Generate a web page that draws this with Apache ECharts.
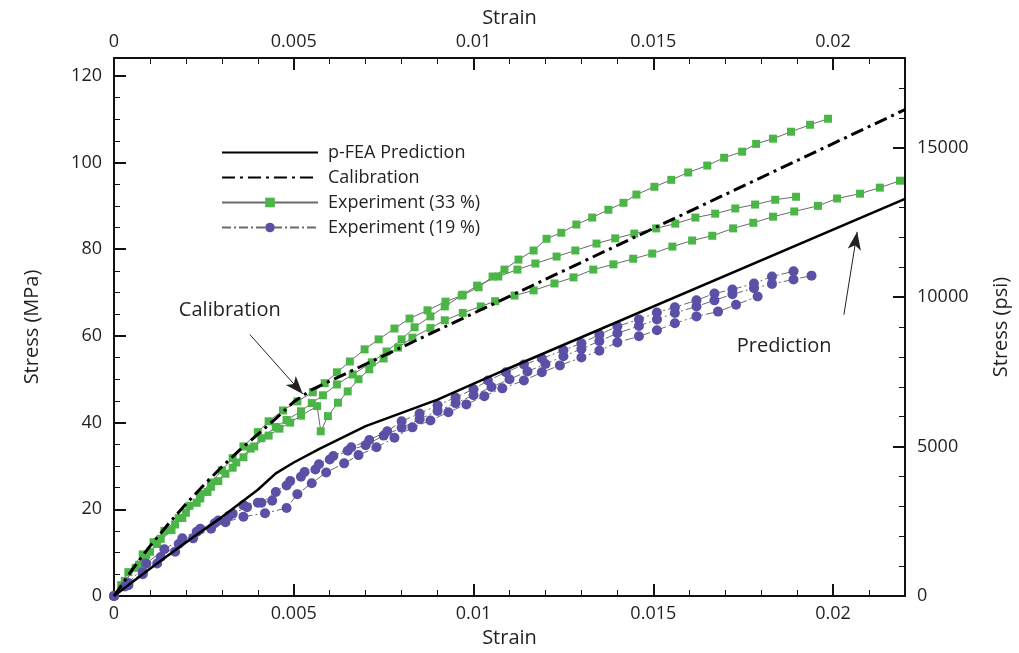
<!DOCTYPE html>
<html><head><meta charset="utf-8">
<script src="https://cdn.jsdelivr.net/npm/echarts@6/dist/echarts.min.js"></script>
<style>html,body{margin:0;padding:0;background:#fff}#c{width:1019px;height:653px}</style>
</head><body><div id="c"></div>
<script>
// ---------- axis ticks ----------
const STRAIN_MAJOR = 0.005, STRAIN_MINOR = 0.001;
const MPA_MAJOR = 20, MPA_MINOR = 5;
const PSI_MAJOR = 5000, PSI_MINOR = 1000;
const STRAIN_MAX = 0.022;
const PSI_MAX = 18000;
const MPA_PER_PSI = 0.00689476;
const MPA_MAX = PSI_MAX * MPA_PER_PSI;

// ---------- series data: [strain, stress MPa] ----------
const prediction = [[0,0],[0.001,6.3],[0.002,12.4],[0.003,18.2],[0.004,24.5],[0.0045,28.3],[0.005,30.8],[0.0057,33.9],[0.007,39.2],[0.009,45.3],[0.011,52.6],[0.022,91.6]];
const calibration = [[0,0],[0.0005,6],[0.001,11.5],[0.0015,16.5],[0.002,21.2],[0.0025,25.6],[0.003,29.8],[0.0035,33.7],[0.004,37.3],[0.0045,40.9],[0.005,44.8],[0.0055,47.6],[0.022,112.2]];

const exp33a = [[0,0],[0.0004,5.5],[0.0008,9.6],[0.0011,12.4],[0.0014,15.0],[0.0018,18.0],[0.0021,20.8],[0.0024,23.5],[0.0027,26.2],[0.0030,29.0],[0.0033,31.8],[0.0036,34.5],[0.0040,37.8],[0.0043,40.3],[0.0047,42.8],[0.0051,44.9],[0.00553,47.0],[0.00586,49.1],[0.0062,51.6],[0.00656,54.1],[0.00697,56.9],[0.00736,59.2],[0.0078,61.7],[0.00822,64.0],[0.00872,65.9],[0.00922,67.9],[0.00967,69.3],[0.01014,71.2],[0.01053,73.7],[0.01086,75.3],[0.01125,77.6],[0.01167,79.7],[0.01203,82.4],[0.01244,83.8],[0.01286,85.7],[0.0133,87.3],[0.01375,89.1],[0.01417,90.7],[0.01453,92.6],[0.01503,94.4],[0.0155,96.0],[0.01597,97.7],[0.0165,99.3],[0.01697,101.1],[0.01747,102.5],[0.01786,104.3],[0.01833,105.5],[0.01883,107.1],[0.01936,108.7],[0.01986,110.1]];
const exp33b = [[0,0],[0.0003,3.5],[0.0007,7.2],[0.0010,10.2],[0.0013,13.2],[0.0017,16.5],[0.0020,19.2],[0.0024,22.5],[0.0027,25.2],[0.0031,28.2],[0.0034,30.8],[0.0038,34.0],[0.0041,36.4],[0.0045,39.0],[0.0048,40.6],[0.0052,42.6],[0.0055,44.5],[0.00581,46.3],[0.0062,48.8],[0.00664,51.1],[0.00717,53.9],[0.00758,56.4],[0.0080,59.2],[0.00836,62.0],[0.0088,64.5],[0.0092,66.8],[0.0097,69.5],[0.0101,71.6],[0.01069,73.7],[0.01122,75.3],[0.01172,76.7],[0.01231,78.3],[0.01283,79.7],[0.01342,81.3],[0.01394,82.5],[0.01447,83.6],[0.01508,84.8],[0.01561,85.9],[0.01617,87.3],[0.01672,88.2],[0.01728,89.4],[0.01783,90.3],[0.01839,91.4],[0.01897,92.1]];
const exp33c = [[0,0],[0.0002,2.5],[0.0006,6.5],[0.0009,9.5],[0.0012,12.0],[0.0016,15.2],[0.0019,18.0],[0.0023,21.5],[0.0026,24.0],[0.0029,26.5],[0.0033,29.6],[0.0036,32.0],[0.0039,34.5],[0.0043,37.0],[0.0046,38.6],[0.0049,40.0],[0.0052,41.6],[0.00565,43.8],[0.00575,38.0],[0.00595,41.5],[0.00623,44.6],[0.0065,47.2],[0.0068,50.0],[0.0071,52.3],[0.0075,54.8],[0.0079,57.3],[0.0083,59.6],[0.0088,61.8],[0.0092,63.6],[0.0097,65.3],[0.0102,66.8],[0.0106,68.0],[0.01114,69.3],[0.01167,70.5],[0.01225,72.1],[0.01278,73.5],[0.01333,75.3],[0.01389,76.5],[0.01444,77.8],[0.01497,79.0],[0.01553,80.6],[0.01608,82.0],[0.01664,83.1],[0.01722,84.8],[0.01778,86.1],[0.01833,87.5],[0.01892,88.7],[0.01958,90.0],[0.02011,91.7],[0.02075,92.8],[0.0213,94.2],[0.02186,95.8]];

const exp19a = [[0,0],[0.0004,3.0],[0.0009,7.5],[0.0014,10.8],[0.0019,13.3],[0.0024,15.5],[0.0029,17.4],[0.0033,19.0],[0.0037,20.5],[0.0041,21.5],[0.0045,24.0],[0.0049,26.5],[0.0053,28.6],[0.0057,30.4],[0.0061,32.3],[0.0066,34.3],[0.0071,36.0],[0.0076,38.0],[0.0080,40.3],[0.0085,42.1],[0.0090,44.0],[0.0095,45.8],[0.0100,47.7],[0.0104,49.7],[0.0109,51.6],[0.0114,53.4],[0.0119,54.8],[0.0125,56.7],[0.0130,58.3],[0.0135,60.3],[0.0140,62.2],[0.0146,63.8],[0.0151,65.4],[0.0156,66.6],[0.0162,68.2],[0.0167,69.8],[0.0172,70.7],[0.0178,72.1],[0.0183,73.7],[0.0189,74.9]];
const exp19b = [[0,0],[0.0003,2.2],[0.0008,5.5],[0.0013,9.0],[0.0018,12.0],[0.0023,14.8],[0.0028,16.8],[0.0032,18.5],[0.0036,21.0],[0.0040,21.5],[0.0044,22.0],[0.0048,25.5],[0.0052,27.5],[0.0056,29.2],[0.0060,31.5],[0.0065,33.5],[0.0070,34.8],[0.0075,37.0],[0.0080,38.8],[0.0085,40.8],[0.0090,42.7],[0.0095,44.5],[0.0100,46.3],[0.0105,48.2],[0.0110,50.0],[0.0115,51.8],[0.0120,53.5],[0.0125,55.3],[0.0130,57.0],[0.0135,58.8],[0.0140,60.6],[0.0146,62.3],[0.0151,63.8],[0.0156,65.3],[0.0162,66.8],[0.0167,68.2],[0.0172,69.6],[0.0178,71.0],[0.0183,72.0],[0.0189,73.0],[0.0194,73.9]];
const exp19c = [[0,0],[0.0004,2.5],[0.0008,5.0],[0.0012,7.5],[0.0017,10.2],[0.0022,13.3],[0.0027,15.5],[0.0031,17.0],[0.0036,18.3],[0.0042,19.1],[0.0048,20.3],[0.0051,23.5],[0.0055,26.0],[0.0059,28.5],[0.0064,30.6],[0.0068,32.5],[0.0073,34.3],[0.0078,36.5],[0.0083,38.9],[0.0088,40.5],[0.0093,42.4],[0.0098,44.2],[0.0103,46.1],[0.0108,47.9],[0.0114,49.7],[0.0119,51.6],[0.0124,53.2],[0.0130,55.0],[0.0135,56.6],[0.0140,58.5],[0.0146,59.9],[0.0151,61.3],[0.0156,62.9],[0.0162,64.5],[0.0168,65.6],[0.0173,67.2],[0.0179,69.1]];

// annotation text anchors and arrows (data coordinates)
const annotationTexts = [{name:'Calibration', coord:[0.00322, 65.9]}, {name:'Prediction', coord:[0.01864, 57.6]}];
const annotationArrows = [[[0.00378, 60.3],[0.00525, 46.6]], [[0.0203, 64.9],[0.02067, 84.0]]];

const FONT = 'Open Sans';
const TXT = '#231f20';
const isMultiple = (v, step) => Math.abs(v / step - Math.round(v / step)) < 1e-6;

function axisCommon(min, max, interval, len, width, showLine) {
  return {type:'value', min:min, max:max, interval:interval,
    axisLine:{show:showLine, onZero:false, lineStyle:{color:'#111', width:2}},
    axisTick:{show:true, inside:true, length:len, lineStyle:{color:'#111', width:width}},
    axisLabel:{show:false}, splitLine:{show:false}};
}
function majorX(pos, gap, margin) {
  const a = axisCommon(0, STRAIN_MAX, STRAIN_MAJOR, 12, 2, true);
  a.position = pos; a.name = 'Strain'; a.nameLocation = 'middle'; a.nameGap = gap;
  a.nameTextStyle = {fontSize:20, color:TXT, fontFamily:FONT};
  a.axisLabel = {show:true, fontSize:18, color:TXT, fontFamily:FONT, margin:margin, showMaxLabel:false,
    formatter:v => isMultiple(v, STRAIN_MAJOR) ? String(+(+v).toFixed(3)) : ''};
  return a;
}
function minorX(pos) {
  const a = axisCommon(0, STRAIN_MAX, STRAIN_MINOR, 6, 1, false);
  a.position = pos; return a;
}

const mpaMajor = axisCommon(0, MPA_MAX, MPA_MAJOR, 12, 2, true);
Object.assign(mpaMajor, {position:'left', name:'Stress (MPa)', nameLocation:'middle', nameGap:72, nameRotate:90,
  nameTextStyle:{fontSize:20, color:TXT, fontFamily:FONT}});
mpaMajor.axisLabel = {show:true, fontSize:18, color:TXT, fontFamily:FONT, margin:12, showMaxLabel:false,
  formatter:v => isMultiple(v, MPA_MAJOR) ? String(Math.round(v)) : ''};
const mpaMinor = axisCommon(0, MPA_MAX, MPA_MINOR, 6, 1, false); mpaMinor.position = 'left';

const psiMajor = axisCommon(0, PSI_MAX, PSI_MAJOR, 12, 2, true);
Object.assign(psiMajor, {position:'right', name:'Stress (psi)', nameLocation:'middle', nameGap:86, nameRotate:90,
  nameTextStyle:{fontSize:20, color:TXT, fontFamily:FONT}});
psiMajor.axisLabel = {show:true, fontSize:18, color:TXT, fontFamily:FONT, margin:12, showMaxLabel:false,
  formatter:v => isMultiple(v, PSI_MAJOR) ? String(Math.round(v)) : ''};
const psiMinor = axisCommon(0, PSI_MAX, PSI_MINOR, 6, 1, false); psiMinor.position = 'right';

const option = {
  animation:false,
  backgroundColor:'#fff',
  grid:{left:114, right:114, top:58, bottom:56},
  legend:{
    left:216, top:137, orient:'vertical', itemWidth:96, itemHeight:12, itemGap:4, selectedMode:false,
    textStyle:{fontSize:18, color:TXT, fontFamily:FONT, lineHeight:21, padding:[0,0,0,5]},
    data:[{name:'p-FEA Prediction', itemStyle:{opacity:0}}, {name:'Calibration', itemStyle:{opacity:0}}, 'Experiment (33 %)', 'Experiment (19 %)']
  },
  xAxis:[majorX('bottom', 32, 9), minorX('bottom'), majorX('top', 29, 7), minorX('top')],
  yAxis:[mpaMajor, mpaMinor, psiMajor, psiMinor],
  series:[]
};

const GREEN = '#4cb548', PURPLE = '#5a50a6', THIN = '#6a6a6a';
function exp(name, data, symbol, size, color, lineType) {
  return {type:'line', name:name, data:data, xAxisIndex:0, yAxisIndex:0, symbol:symbol, symbolSize:size,
    showSymbol:true, showAllSymbol:true, itemStyle:{color:color}, lineStyle:{color:THIN, width:1, type:lineType},
    emphasis:{disabled:true}, z:2};
}
[exp33a, exp33b, exp33c].forEach(d => option.series.push(exp('Experiment (33 %)', d, 'rect', 8, GREEN, 'solid')));
[exp19c, exp19b, exp19a].forEach(d => option.series.push(exp('Experiment (19 %)', d, 'circle', 10, PURPLE, [9,3,2,3])));

option.series.push({type:'line', name:'Calibration', data:calibration, symbol:'none', itemStyle:{color:'rgba(0,0,0,0)'},
  lineStyle:{color:'#000', width:3, type:[13,5,3,5]}, emphasis:{disabled:true}, z:4});
option.series.push({type:'line', name:'p-FEA Prediction', data:prediction, symbol:'none', itemStyle:{color:'rgba(0,0,0,0)'},
  lineStyle:{color:'#000', width:2.5, type:'solid'}, emphasis:{disabled:true}, z:4,
  markLine:{silent:true, symbol:['none','arrow'], symbolSize:[10,18], animation:false,
    lineStyle:{color:'#222', width:1, type:'solid'}, label:{show:false}, emphasis:{disabled:true},
    data: annotationArrows.map(a => [{coord:a[0]}, {coord:a[1]}])},
  markPoint:{silent:true, symbol:'circle', symbolSize:1, itemStyle:{color:'rgba(0,0,0,0)'}, animation:false,
    label:{show:true, position:'inside', formatter:'{b}', fontSize:20, color:TXT, fontFamily:FONT},
    data: annotationTexts.map(t => ({name:t.name, coord:t.coord}))}
});

const chart = echarts.init(document.getElementById('c'), null, {renderer:'canvas'});
chart.setOption(option);
</script></body></html>
